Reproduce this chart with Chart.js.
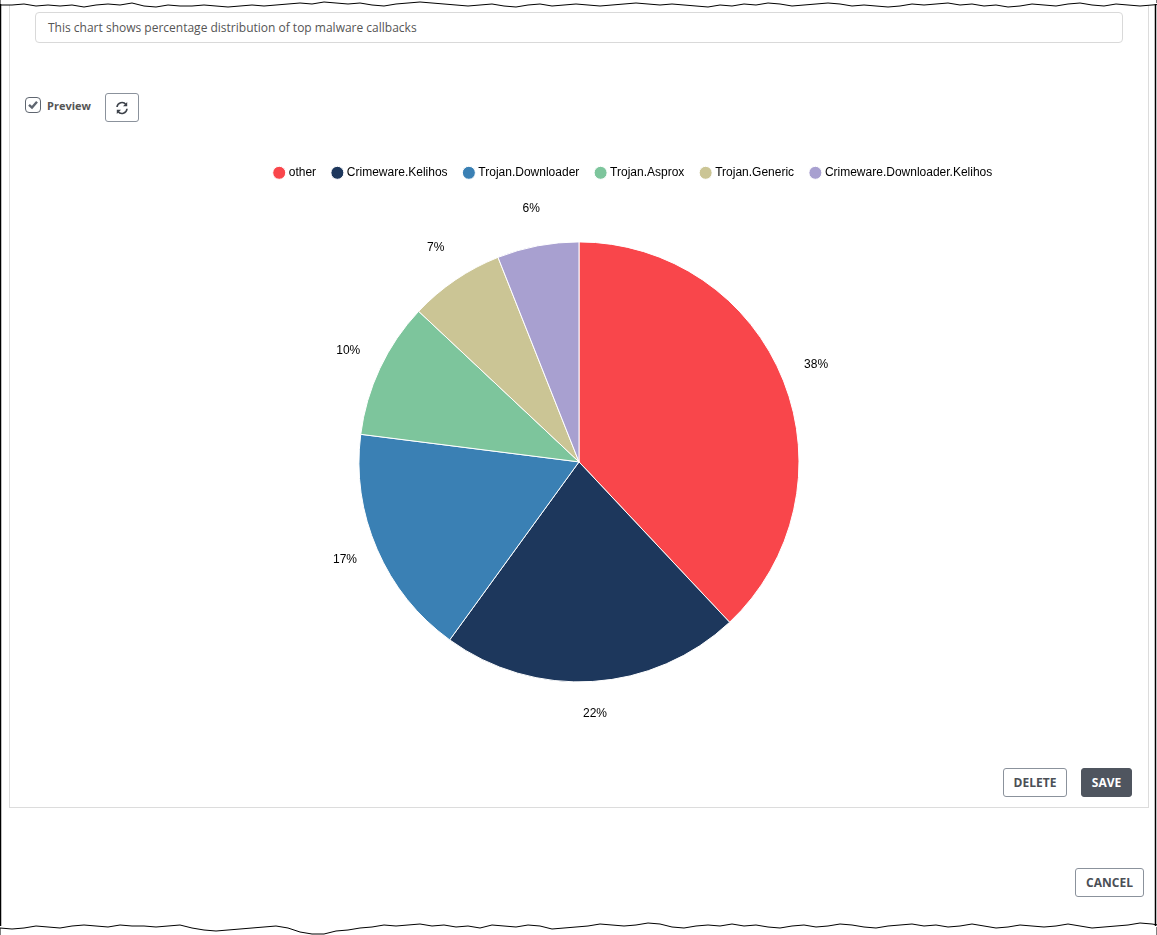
<!DOCTYPE html>
<html>
<head>
<meta charset="utf-8">
<title>Top malware callbacks</title>
<script src="https://cdn.jsdelivr.net/npm/chart.js@4"></script>
<style>
  html, body { margin: 0; padding: 0; background: #fff; }
  body { position: relative; width: 1157px; height: 935px; overflow: hidden; font-family: "Open Sans", sans-serif; color: #4b4f56; }
  .abs { position: absolute; box-sizing: border-box; }
  #panel { left: 9px; top: -10px; width: 1140px; height: 818px; border: 1px solid #dcdcdc; }
  #desc { left: 35px; top: 12px; width: 1088px; height: 31px; border: 1px solid #d9d9d9; border-radius: 4px; font-size: 12px; line-height: 29px; padding-left: 12px; color: #555; }
  #check { left: 25px; top: 97px; width: 16px; height: 16px; border: 1px solid #5f6670; border-radius: 4px; }
  #check svg { display: block; }
  #previewLabel { left: 47px; top: 98px; font-size: 11px; font-weight: 700; line-height: 15px; color: #555; }
  .btn { border: 1px solid #8b929c; border-radius: 3px; background: #fff; font-size: 12px; font-weight: 700; text-align: center; line-height: 27px; color: #4b4f56; }
  #refresh { left: 105px; top: 93px; width: 34px; height: 29px; }
  #del { left: 1003px; top: 768px; width: 64px; height: 29px; }
  #save { left: 1081px; top: 768px; width: 51px; height: 29px; background: #4f555f; border-color: #4f555f; color: #fff; }
  #cancel { left: 1075px; top: 868px; width: 69px; height: 29px; }
  #chartBox { left: 160px; top: 155px; width: 838px; height: 574px; }
  #edges { left: 0; top: 0; }
</style>
</head>
<body>
<div class="abs" id="panel"></div>
<div class="abs" id="desc">This chart shows percentage distribution of top malware callbacks</div>
<div class="abs" id="check">
  <svg width="14" height="14" viewBox="0 0 14 14"><path d="M3 6.8 L6 9.6 L11 3.8" fill="none" stroke="#5f6670" stroke-width="2.4"/></svg>
</div>
<div class="abs" id="previewLabel">Preview</div>
<div class="abs btn" id="refresh">
  <svg width="14" height="14" viewBox="0 0 14 14" style="margin-top:7px">
    <path d="M2 6 A5 5 0 0 1 11 3.6 M12 7.8 A5 5 0 0 1 3 10.4" fill="none" stroke="#3d424a" stroke-width="1.6"/>
    <path d="M12.2 1 V5.2 H8 Z M1.8 13 V8.8 H6 Z" fill="#3d424a"/>
  </svg>
</div>
<div class="abs btn" id="del">DELETE</div>
<div class="abs btn" id="save">SAVE</div>
<div class="abs btn" id="cancel">CANCEL</div>
<div class="abs" id="chartBox"><canvas id="pieChart"></canvas></div>

<svg class="abs" id="edges" width="1157" height="935">
  <path id="topCover" fill="#fff" stroke="#000" stroke-width="1"/>
  <path id="bottomCover" fill="#fff" stroke="#000" stroke-width="1"/>
  <path d="M0.5 4 V926" stroke="#000" stroke-width="1.5" fill="none"/>
  <path d="M1155.5 4 V926" stroke="#000" stroke-width="1.5" fill="none"/>
</svg>

<script>
const categories = ['other', 'Crimeware.Kelihos', 'Trojan.Downloader', 'Trojan.Asprox', 'Trojan.Generic', 'Crimeware.Downloader.Kelihos'];
const percentages = [38, 22, 17, 10, 7, 6];
const sliceColors = ['#f9464b', '#1d375c', '#3a80b4', '#7dc59c', '#cbc595', '#a8a0d0'];

// torn paper edges, y offset every 12px across the page
const topEdge = [5,5,4,6,5,6,5,7,5,4,5,3,6,7,5,6,6,5,6,7,6,5,6,5,4,3,4,2,3,4,3,5,6,4,3,2,3,4,5,6,5,4,6,7,5,4,6,5,4,5,6,5,4,3,4,5,4,5,6,7,5,6,4,5,3,4,6,5,4,3,4,6,5,6,7,6,4,5,4,3,5,4,6,5,7,6,4,5,6,4,3,5,6,4,5,6,5,4,3];
const bottomEdge = [928,929,928,926,927,928,926,925,926,927,925,926,926,927,926,925,928,930,931,930,929,928,927,926,928,932,934,934,931,930,928,927,925,926,925,924,926,925,927,926,928,925,926,927,925,926,929,928,927,926,924,925,926,925,923,924,927,928,926,925,926,924,926,925,927,928,926,925,927,926,924,925,927,928,926,925,924,926,925,927,926,924,926,928,927,925,926,927,926,924,926,928,927,926,925,923,924,926,927];

function edgePath(values, closeY) {
    let d = 'M0 ' + closeY + ' L0 ' + values[0];
    values.forEach((v, i) => { d += ' L' + (i * 12) + ' ' + v; });
    return d + ' L1157 ' + values[values.length - 1] + ' L1157 ' + closeY + ' Z';
}
document.getElementById('topCover').setAttribute('d', edgePath(topEdge, -5));
document.getElementById('bottomCover').setAttribute('d', edgePath(bottomEdge, 940));

// percentage text outside each slice
const outsideLabels = {
    id: 'outsideLabels',
    afterDatasetsDraw(chart) {
        const ctx = chart.ctx;
        ctx.save();
        ctx.font = '12px "Liberation Sans"';
        ctx.fillStyle = '#000';
        ctx.textAlign = 'center';
        ctx.textBaseline = 'middle';
        chart.getDatasetMeta(0).data.forEach((arc, i) => {
            const mid = (arc.startAngle + arc.endAngle) / 2;
            const r = arc.outerRadius + 35;
            ctx.fillText(percentages[i] + '%', arc.x + Math.cos(mid) * r, arc.y + Math.sin(mid) * r - 3);
        });
        ctx.restore();
    }
};

// the legend sits right of the pie's centre in the original
const shiftLegend = {
    id: 'shiftLegend',
    afterLayout(chart) {
        const legend = chart.legend;
        legend.left += 55;
        legend.right += 55;
        legend.top -= 6;
        legend.bottom -= 6;
        legend.adjustHitBoxes();
    }
};

new Chart(document.getElementById('pieChart').getContext('2d'), {
    type: 'pie',
    data: {
        labels: categories,
        datasets: [{
            data: percentages,
            backgroundColor: sliceColors,
            borderColor: '#fff',
            borderWidth: 1,
            radius: 220
        }]
    },
    options: {
        responsive: true,
        maintainAspectRatio: false,
        animation: false,
        plugins: {
            tooltip: { enabled: false },
            legend: {
                position: 'top',
                labels: {
                    usePointStyle: true,
                    pointStyle: 'circle',
                    boxWidth: 7,
                    boxHeight: 9.2,
                    padding: 17.8,
                    color: '#000',
                    font: { family: 'Liberation Sans', size: 12 }
                }
            }
        }
    },
    plugins: [outsideLabels, shiftLegend]
});
</script>
</body>
</html>
